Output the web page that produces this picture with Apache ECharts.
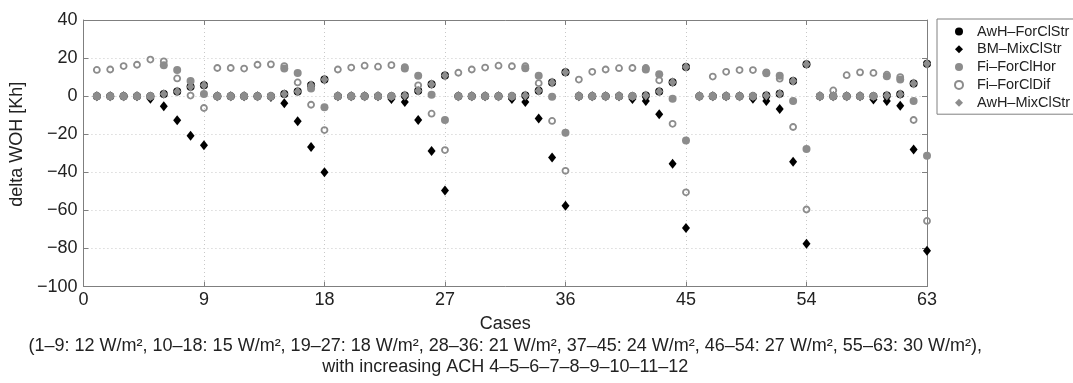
<!DOCTYPE html>
<html>
<head>
<meta charset="utf-8">
<title>delta WOH</title>
<script src="https://cdn.jsdelivr.net/npm/echarts/dist/echarts.min.js"></script>
<style>
  html, body { margin: 0; padding: 0; background: #fff; }
  #woh { width: 1073px; height: 383px; }
</style>
</head>
<body>
<div id="woh"></div>
<script>
// cases 1..63, groups of 9 (12..30 W/m2), ACH 4..12 inside each group
const cases = [
  1, 2, 3, 4, 5, 6, 7, 8, 9,
  10, 11, 12, 13, 14, 15, 16, 17, 18,
  19, 20, 21, 22, 23, 24, 25, 26, 27,
  28, 29, 30, 31, 32, 33, 34, 35, 36,
  37, 38, 39, 40, 41, 42, 43, 44, 45,
  46, 47, 48, 49, 50, 51, 52, 53, 54,
  55, 56, 57, 58, 59, 60, 61, 62, 63
];
const xTicks = [0, 9, 18, 27, 36, 45, 54, 63];
const yTicks = [-100, -80, -60, -40, -20, 0, 20, 40];

const awhForClStr = [
  0, 0, 0, 0, 0, 1.2, 2.5, 5, 5.8,
  0, 0, 0, 0, 0, 1.2, 2.5, 5.7, 8.7,
  0, 0, 0, 0, 0, 0.3, 2.8, 6.3, 10.8,
  0, 0, 0, 0, 0, 0.3, 2.8, 7.2, 12.5,
  0, 0, 0, 0, 0, 0.3, 2.5, 7.3, 15.3,
  0, 0, 0, 0, 0, 0.3, 1.3, 8, 16.7,
  0, 0, 0, 0, 0, 0.3, 1, 6.7, 17
];
const bmMixClStr = [
  0, 0, 0, 0, -1.3, -5.3, -12.7, -20.8, -25.8,
  0, 0, 0, 0, -0.5, -3.7, -13.2, -26.7, -40,
  0, 0, 0, 0, -1.5, -3, -12.5, -28.8, -49.5,
  0, 0, 0, 0, -1.5, -3, -11.7, -32.2, -57.5,
  0, 0, 0, 0, -1.5, -2.5, -9.5, -35.5, -69.2,
  0, 0, 0, 0, -1.3, -2.5, -6.7, -34.5, -77.5,
  0, 0, 0, 0, -1.7, -2.5, -5, -28, -81.2
];
const fiForClHor = [
  0, 0, 0, 0, 0, 16.3, 13.8, 8, 1.2,
  0, 0, 0, 0, 0, 14.5, 12.2, 4, -5.8,
  0, 0, 0, 0, 0, 14.5, 10.7, 0.8, -12.5,
  0, 0, 0, 0, 0, 14.7, 10.7, -0.3, -19.2,
  0, 0, 0, 0, 0, 14, 11.5, -1.3, -23.3,
  0, 0, 0, 0, 0, 12, 10.7, -2.5, -27.8,
  0, 0, 0, 0, 0, 10.5, 8.7, -2.5, -31.3
];
const fiForClDif = [
  13.8, 14, 15.8, 16.5, 19.2, 18.3, 9.3, 0.3, -6.2,
  14.8, 14.8, 14.5, 16.5, 16.7, 15.8, 7.2, -4.5, -17.8,
  14, 15, 16, 15.5, 16.3, 15.3, 5.7, -9.2, -28.3,
  12.3, 14, 15, 16, 15.7, 15.7, 6.8, -13, -39.2,
  8.7, 12.8, 14, 14.7, 14.8, 14.8, 8.3, -14.5, -50.5,
  0, 10.3, 12.8, 13.7, 13.7, 12.5, 9.2, -16.2, -59.5,
  0, 3, 11, 12.5, 12.2, 11.3, 10, -12.5, -65.5
];
const awhMixClStr = [
  0, 0, 0, 0, 0, 1.2, 2.5, 5, 5.8,
  0, 0, 0, 0, 0, 1.2, 2.5, 5.7, 8.7,
  0, 0, 0, 0, 0, 0.3, 2.8, 6.3, 10.8,
  0, 0, 0, 0, 0, 0.3, 2.8, 7.2, 12.5,
  0, 0, 0, 0, 0, 0.3, 2.5, 7.3, 15.3,
  0, 0, 0, 0, 0, 0.3, 1.3, 8, 16.7,
  0, 0, 0, 0, 0, 0.3, 1, 6.7, 17
];

const font = "'Liberation Sans', Arial, Helvetica, sans-serif";
const axisGray = "#7f7f7f";
const markGray = "#8c8c8c";

const pairs = (vals) => cases.map((c, i) => [c, vals[i]]);
const minus = (v) => String(v).replace("-", "\u2212");

const init = () => {
  let chartDom = document.getElementById("woh");
  let myChart = echarts.init(chartDom, null, { renderer: "canvas" });
  let option;

  const baseX = {
    type: "value",
    min: xTicks[0],
    max: xTicks[xTicks.length - 1],
    interval: 9,
    axisLine: { show: true, onZero: false, lineStyle: { color: axisGray, width: 1 } },
    axisTick: { show: true, inside: true, length: 5, lineStyle: { color: axisGray } },
  };
  const baseY = {
    type: "value",
    min: yTicks[0],
    max: yTicks[yTicks.length - 1],
    interval: 20,
    axisLine: { show: true, onZero: false, lineStyle: { color: axisGray, width: 1 } },
    axisTick: { show: true, inside: true, length: 5, lineStyle: { color: axisGray } },
  };

  option = {
    animation: false,
    backgroundColor: "#fff",
    textStyle: { fontFamily: font },
    grid: {
      left: 76,
      right: 146,
      top: 20,
      bottom: 83,
      containLabel: false,
    },
    legend: {
      orient: "vertical",
      left: 937,
      top: 19,
      padding: [5, 4, 4, 17],
      itemWidth: 8,
      itemHeight: 8,
      itemGap: 2.8,
      borderColor: "#808080",
      borderWidth: 1,
      textStyle: { fontFamily: font, fontSize: 14.5, color: "#222", lineHeight: 14, padding: [0, 0, 0, 9] },
      data: [
        { name: "AwH\u2013ForClStr", icon: "circle" },
        { name: "BM\u2013MixClStr", icon: "diamond" },
        { name: "Fi\u2013ForClHor", icon: "circle" },
        { name: "Fi\u2013ForClDif", icon: "circle" },
        { name: "AwH\u2013MixClStr", icon: "diamond" },
      ],
    },
    xAxis: [
      Object.assign({}, baseX, {
        position: "bottom",
        name: "Cases\n(1\u20139: 12 W/m\u00b2, 10\u201318: 15 W/m\u00b2, 19\u201327: 18 W/m\u00b2, 28\u201336: 21 W/m\u00b2, 37\u201345: 24 W/m\u00b2, 46\u201354: 27 W/m\u00b2, 55\u201363: 30 W/m\u00b2),\nwith increasing ACH 4\u20135\u20136\u20137\u20138\u20139\u201310\u201311\u201312",
        nameLocation: "middle",
        nameGap: 21,
        nameTextStyle: { fontFamily: font, fontSize: 18, color: "#222", lineHeight: 21.5 },
        axisLabel: { fontFamily: font, fontSize: 18, color: "#222", margin: 4 },
        splitLine: { show: true, lineStyle: { color: "#c8c8c8", type: [1, 3] } },
      }),
      Object.assign({}, baseX, {
        position: "top",
        axisLabel: { show: false },
        splitLine: { show: false },
      }),
    ],
    yAxis: [
      Object.assign({}, baseY, {
        position: "left",
        name: "delta WOH [Kh]",
        nameLocation: "middle",
        nameRotate: 90,
        nameGap: 50,
        nameTextStyle: { fontFamily: font, fontSize: 18, color: "#222", padding: [0, 0, 0, 18] },
        axisLabel: { fontFamily: font, fontSize: 18, color: "#222", margin: 6, formatter: minus },
        splitLine: { show: true, lineStyle: { color: "#c8c8c8", type: [1, 3] } },
      }),
      Object.assign({}, baseY, {
        position: "right",
        axisLabel: { show: false },
        splitLine: { show: false },
      }),
    ],
    series: [
      {
        name: "AwH\u2013ForClStr",
        type: "scatter",
        symbol: "circle",
        symbolSize: 8,
        itemStyle: { color: "#000", opacity: 1 },
        data: pairs(awhForClStr),
      },
      {
        name: "BM\u2013MixClStr",
        type: "scatter",
        symbol: "diamond",
        symbolSize: [8, 10],
        itemStyle: { color: "#000", opacity: 1 },
        data: pairs(bmMixClStr),
      },
      {
        name: "Fi\u2013ForClHor",
        type: "scatter",
        symbol: "circle",
        symbolSize: 8,
        itemStyle: { color: markGray, opacity: 1 },
        data: pairs(fiForClHor),
      },
      {
        name: "Fi\u2013ForClDif",
        type: "scatter",
        symbol: "circle",
        symbolSize: 6,
        itemStyle: { color: "rgba(0,0,0,0)", borderColor: markGray, borderWidth: 1.8, opacity: 1 },
        data: pairs(fiForClDif),
      },
      {
        name: "AwH\u2013MixClStr",
        type: "scatter",
        symbol: "diamond",
        symbolSize: [8, 10],
        itemStyle: { color: markGray, opacity: 1 },
        data: pairs(awhMixClStr),
      },
    ],
  };

  option && myChart.setOption(option);
};

init();
</script>
</body>
</html>
